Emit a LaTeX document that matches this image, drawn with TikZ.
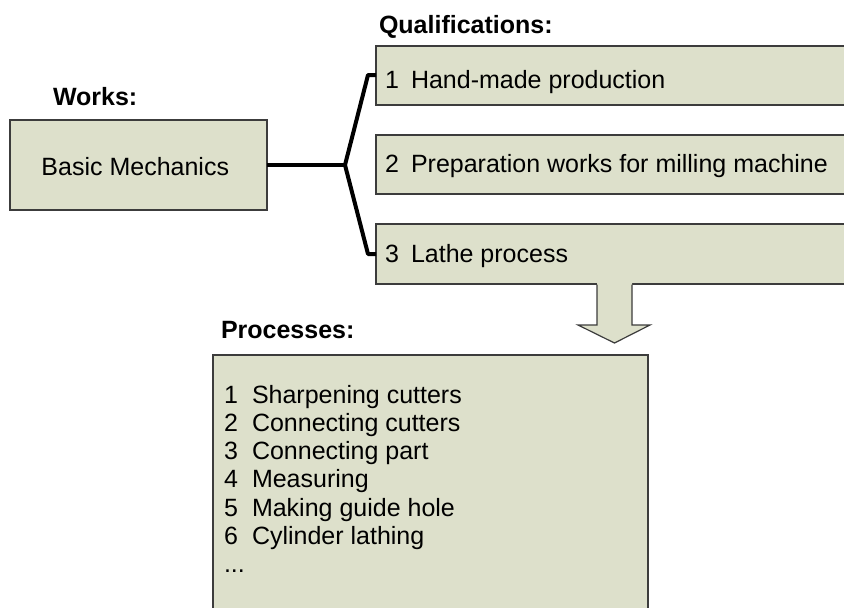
\documentclass[tikz,border=0pt]{standalone}
\usepackage{fontspec}
\setmainfont{Liberation Sans}
\usetikzlibrary{calc}
\definecolor{boxfill}{RGB}{221,224,203}
\definecolor{boxline}{RGB}{60,60,60}
\begin{document}
\begin{tikzpicture}[x=1pt,y=-1pt,
  every node/.style={inner sep=0pt, outer sep=0pt, font=\fontsize{25}{28}\selectfont},
  panel/.style={draw=boxline, line width=1.2pt, fill=boxfill},
  heading/.style={anchor=base west, font=\fontsize{25}{28}\selectfont\bfseries},
  itemtext/.style={anchor=base west},
  brace/.style={line width=4pt, black, line join=round}]
\clip (0,0) rectangle (844,608);
\fill[white] (0,0) rectangle (844,608);

% headings
\node[heading] (hworks) at (53,105) {Works:};
\node[heading] (hqual) at (379,33) {Qualifications:};
\node[heading] (hproc) at (221,338) {Processes:};

% work box
\node[panel, anchor=north west, minimum width=257pt, minimum height=90pt] (bm) at (10,120) {};
\node[itemtext] (bmtext) at (41.5,175) {Basic Mechanics};

% qualification boxes (running past the right edge)
\node[panel, anchor=north west, minimum width=490pt, minimum height=59pt] (qual1) at (376,46) {};
\node[panel, anchor=north west, minimum width=490pt, minimum height=59pt] (qual2) at (376,135) {};
\node[panel, anchor=north west, minimum width=490pt, minimum height=60pt] (qual3) at (376,224) {};

\node[itemtext] (q1n) at (385,88) {1};
\node[itemtext] (q1t) at (411,88) {Hand-made production};
\node[itemtext] (q2n) at (385,172) {2};
\node[itemtext] (q2t) at (411,172) {Preparation works for milling machine};
\node[itemtext] (q3n) at (385,262) {3};
\node[itemtext] (q3t) at (411,262) {Lathe process};

% brace joining the work to its qualifications
\coordinate (fork) at (345,165);
\coordinate (btop) at (368,75);
\coordinate (bbot) at (368,254);
\draw[brace] (bm.east) -- (fork);
\draw[brace] (qual1.west |- btop) -- (btop) -- (fork) -- (bbot) -- (qual3.west |- bbot);

% processes box (running past the bottom edge)
\node[panel, anchor=north west, minimum width=435pt, minimum height=280pt] (proc) at (213,355) {};

% block arrow from the qualifications down to the processes
\coordinate (sl) at (597,284);
\coordinate (sr) at (632,284);
\coordinate (tip) at (614.5,343);
\fill[boxfill] ($(sl)+(0,-1)$) -- (597,325) -- (578,325) -- (tip) -- (650,325) -- (632,325) -- ($(sr)+(0,-1)$) -- cycle;
\draw[boxline, line width=1.2pt, line join=miter]
  ($(sl)+(0,0.6)$) -- (597,325) -- (578,325) -- (tip) -- (650,325) -- (632,325) -- ($(sr)+(0,0.6)$);

% process list
\foreach \n/\t [count=\i from 0] in {1/Sharpening cutters, 2/Connecting cutters, 3/Connecting part,
    4/Measuring, 5/Making guide hole, 6/Cylinder lathing} {
  \node[itemtext] (pn\n) at (224,403+28.3*\i) {\n};
  \node[itemtext] (pt\n) at (252,403+28.3*\i) {\t};
}
\node[itemtext] (pmore) at (224,572.8) {...};
\end{tikzpicture}
\end{document}
